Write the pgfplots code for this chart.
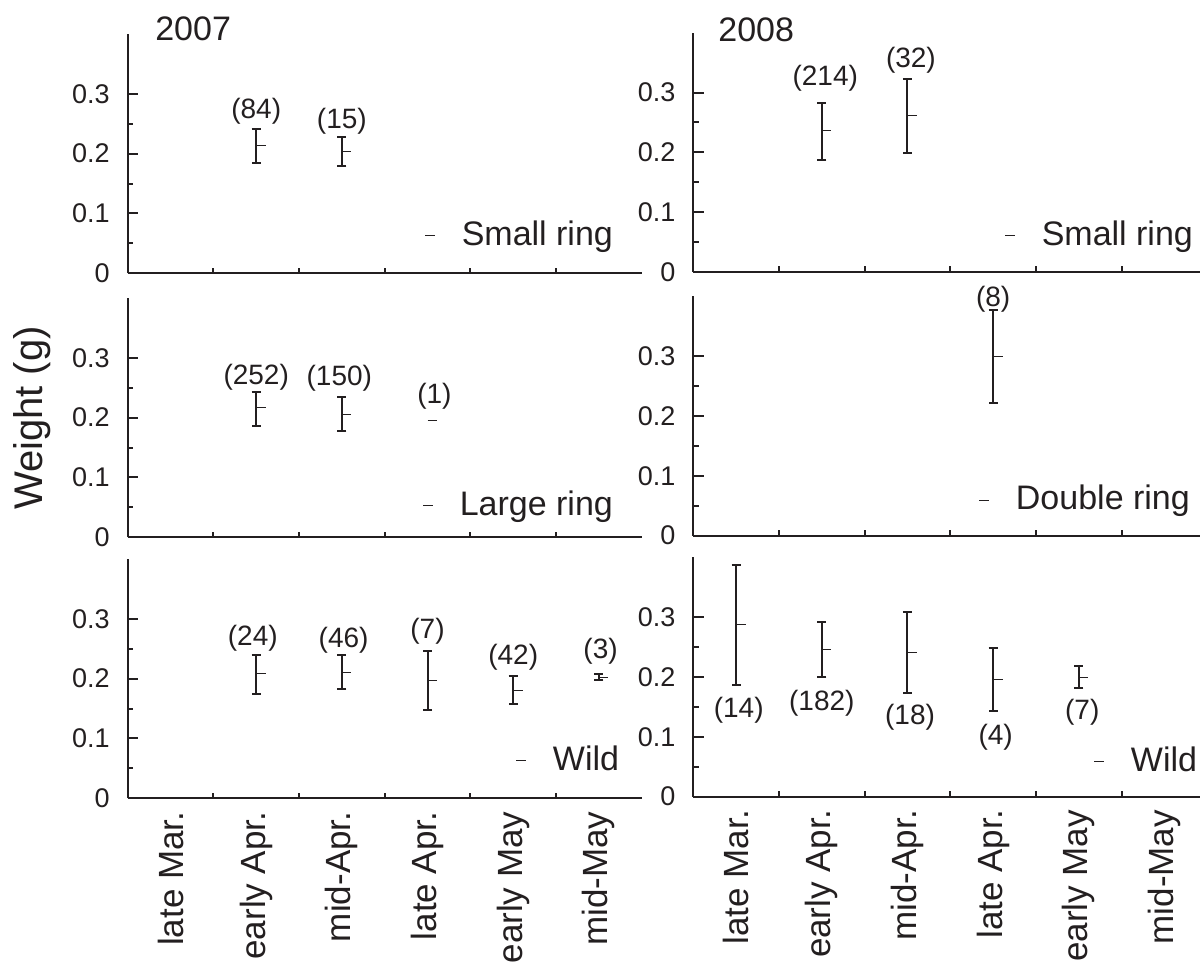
\documentclass[border=0pt]{standalone}
\usepackage{fontspec}
\setmainfont{Liberation Sans}
\usepackage{pgfplots}
\pgfplotsset{compat=1.18}

\definecolor{ink}{HTML}{231F20}
\newcommand\tickfont{\fontsize{13.5}{16}\selectfont}
\newcommand\nfont{\fontsize{14}{16}\selectfont}
\newcommand\bigfont{\fontsize{17}{20}\selectfont}
\newcommand\catfont{\fontsize{17.5}{20}\selectfont}

\pgfdeclareplotmark{meantick}{%
  \pgfpathmoveto{\pgfqpoint{0pt}{0pt}}%
  \pgfpathlineto{\pgfqpoint{4.7pt}{0pt}}%
  \pgfusepathqstroke}

\pgfplotsset{
  panel/.style={
    scale only axis, width=257pt, height=119.65pt,
    anchor=south west,
    xmin=0, xmax=6, ymin=0, ymax=0.4,
    axis lines*=left,
    axis line style={line width=1.1pt, ink},
    tick align=inside,
    xtick={0.5,1.5,...,5.5}, xticklabels={},
    major x tick style={draw=none},
    minor xtick={1,2,3,4,5},
    ytick={0,0.1,0.2,0.3}, minor ytick={0.05,0.15,0.25},
    major tick length=5.3pt, minor tick length=2.8pt,
    every tick/.style={line width=1pt, ink},
    /pgf/number format/assume math mode=true,
    yticklabel style={font=\tickfont, ink, anchor=east, inner sep=0pt, xshift=-8.8pt,
      /pgf/number format/fixed},
    clip=false,
    legend style={draw=none, fill=none, inner sep=0pt, outer sep=0pt,
      column sep=13pt, font=\bigfont, text=ink, anchor=south east,
      nodes={inner sep=0pt, text depth=4pt}},
  },
  bottompanel/.style={
    xticklabels={late Mar., early Apr., mid-Apr., late Apr., early May, mid-May},
    xticklabel style={font=\catfont, ink, yshift=-6.5pt, rotate=90, anchor=east, inner sep=0pt},
  },
  ebar/.style={ink, only marks, mark=meantick, mark options={line width=0.5pt},
    legend image code/.code={\draw[line width=0.5pt, ink] (0pt,0.8pt) -- (5pt,0.8pt);},
    error bars/.cd, y dir=both, y explicit,
    error bar style={line width=1pt, ink},
    error mark options={rotate=90, mark size=2.25pt, line width=1pt, ink}},
}

\begin{document}
\begin{tikzpicture}

% ---------- 2007 small ring ----------
\begin{axis}[panel, at={(63.85pt,345.85pt)}, legend style={at={(0.944,0.084)}}]
  \addplot[ebar] coordinates {
    (1.5,0.213) += (0,0.029) -= (0,0.029)
    (2.5,0.203) += (0,0.024) -= (0,0.023)
  };
  \addlegendentry{Small ring}
  \node[font=\nfont, ink] at (axis cs:1.5,0.271) {(84)};
  \node[font=\nfont, ink] at (axis cs:2.5,0.254) {(15)};
  \node[font=\bigfont, ink, anchor=base west, inner sep=0pt] at (rel axis cs:0.053,0.971) {2007};
\end{axis}

% ---------- 2007 large ring ----------
\begin{axis}[panel, at={(63.85pt,213.85pt)}, legend style={at={(0.944,0.057)}}]
  \addplot[ebar] coordinates {
    (1.5,0.217) += (0,0.026) -= (0,0.031)
    (2.5,0.206) += (0,0.028) -= (0,0.029)
  };
  \addlegendentry{Large ring}
  \addplot[ink, only marks, mark=meantick, mark options={line width=0.5pt}, forget plot]
    coordinates {(3.5,0.195)};
  \node[font=\nfont, ink] at (axis cs:1.5,0.268) {(252)};
  \node[font=\nfont, ink] at (axis cs:2.47,0.266) {(150)};
  \node[font=\nfont, ink] at (axis cs:3.58,0.235) {(1)};
\end{axis}

% ---------- 2007 wild ----------
\begin{axis}[panel, bottompanel, at={(63.85pt,83.35pt)}, legend style={at={(0.956,0.084)}}]
  \addplot[ebar] coordinates {
    (1.5,0.208) += (0,0.032) -= (0,0.033)
    (2.5,0.211) += (0,0.028) -= (0,0.028)
    (3.5,0.197) += (0,0.049) -= (0,0.050)
    (4.5,0.181) += (0,0.024) -= (0,0.024)
    (5.5,0.202) += (0,0.006) -= (0,0.005)
  };
  \addlegendentry{Wild}
  \node[font=\nfont, ink] at (axis cs:1.46,0.268) {(24)};
  \node[font=\nfont, ink] at (axis cs:2.52,0.265) {(46)};
  \node[font=\nfont, ink] at (axis cs:3.5,0.279) {(7)};
  \node[font=\nfont, ink] at (axis cs:4.5,0.235) {(42)};
  \node[font=\nfont, ink] at (axis cs:5.52,0.246) {(3)};
\end{axis}

% ---------- 2008 small ring ----------
\begin{axis}[panel, at={(346.65pt,346.5pt)}, legend style={at={(0.972,0.078)}}]
  \addplot[ebar] coordinates {
    (1.5,0.236) += (0,0.047) -= (0,0.048)
    (2.5,0.261) += (0,0.061) -= (0,0.062)
  };
  \addlegendentry{Small ring}
  \node[font=\nfont, ink] at (axis cs:1.54,0.324) {(214)};
  \node[font=\nfont, ink] at (axis cs:2.54,0.354) {(32)};
  \node[font=\bigfont, ink, anchor=base west, inner sep=0pt] at (rel axis cs:0.048,0.965) {2008};
\end{axis}

% ---------- 2008 double ring ----------
\begin{axis}[panel, at={(346.65pt,214.65pt)}, legend style={at={(0.966,0.074)}}]
  \addplot[ebar] coordinates {
    (3.5,0.300) += (0,0.078) -= (0,0.078)
  };
  \addlegendentry{Double ring}
  \node[font=\nfont, ink] at (axis cs:3.5,0.396) {(8)};
\end{axis}

% ---------- 2008 wild ----------
\begin{axis}[panel, bottompanel, at={(346.65pt,84.15pt)}, legend style={at={(0.98,0.071)}}]
  \addplot[ebar] coordinates {
    (0.5,0.288) += (0,0.100) -= (0,0.101)
    (1.5,0.246) += (0,0.046) -= (0,0.046)
    (2.5,0.241) += (0,0.068) -= (0,0.067)
    (3.5,0.196) += (0,0.052) -= (0,0.053)
    (4.5,0.200) += (0,0.018) -= (0,0.018)
  };
  \addlegendentry{Wild}
  \node[font=\nfont, ink] at (axis cs:0.53,0.144) {(14)};
  \node[font=\nfont, ink] at (axis cs:1.5,0.156) {(182)};
  \node[font=\nfont, ink] at (axis cs:2.53,0.133) {(18)};
  \node[font=\nfont, ink] at (axis cs:3.53,0.100) {(4)};
  \node[font=\nfont, ink] at (axis cs:4.54,0.142) {(7)};
\end{axis}

\node[rotate=90, font=\fontsize{20}{24}\selectfont, ink] at (16pt,273.5pt) {Weight (g)};

\pgfresetboundingbox
\path[use as bounding box] (0pt,0pt) rectangle (600pt,482.5pt);
\end{tikzpicture}
\end{document}
